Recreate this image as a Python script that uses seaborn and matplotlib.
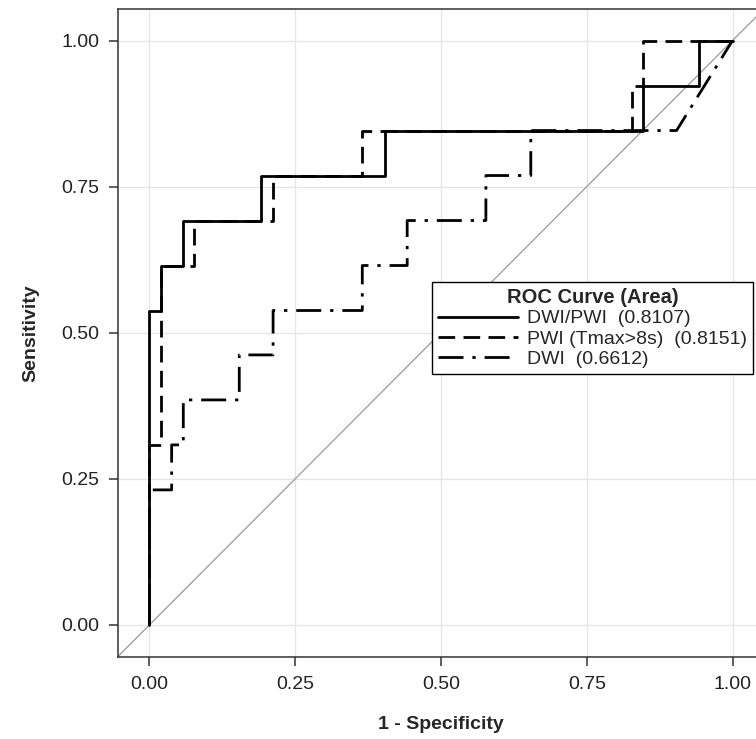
import matplotlib
matplotlib.use("Agg")
import matplotlib.pyplot as plt
import seaborn as sns
import numpy as np

# ROC noktaları (1 - özgüllük, duyarlılık)
dwi_pwi_fpr = [0, 0, 0.019, 0.019, 0.058, 0.058, 0.192, 0.192, 0.404, 0.404, 0.846, 0.846, 0.942, 0.942, 1.0]
dwi_pwi_tpr = [0, 0.538, 0.538, 0.615, 0.615, 0.692, 0.692, 0.769, 0.769, 0.846, 0.846, 0.923, 0.923, 1.0, 1.0]

pwi_fpr = [0, 0, 0.019, 0.019, 0.077, 0.077, 0.212, 0.212, 0.365, 0.365, 0.827, 0.827, 0.846, 0.846, 1.0]
pwi_tpr = [0, 0.308, 0.308, 0.615, 0.615, 0.692, 0.692, 0.769, 0.769, 0.846, 0.846, 0.923, 0.923, 1.0, 1.0]

dwi_fpr = [0, 0, 0.038, 0.038, 0.058, 0.058, 0.154, 0.154, 0.212, 0.212, 0.365, 0.365,
           0.442, 0.442, 0.577, 0.577, 0.654, 0.654, 0.904, 1.0]
dwi_tpr = [0, 0.231, 0.231, 0.308, 0.308, 0.385, 0.385, 0.462, 0.462, 0.538, 0.538, 0.615,
           0.615, 0.692, 0.692, 0.769, 0.769, 0.846, 0.846, 1.0]

etiketler = ["DWI/PWI  (0.8107)", "PWI (Tmax>8s)  (0.8151)", "DWI  (0.6612)"]
tick_degerleri = [0.0, 0.25, 0.5, 0.75, 1.0]
tick_etiketleri = ["0.00", "0.25", "0.50", "0.75", "1.00"]

sns.set_style("whitegrid", {"grid.color": "#e6e6e6", "axes.edgecolor": "#333333"})
plt.rcParams["font.family"] = ["Liberation Sans", "DejaVu Sans"]

fig = plt.figure(figsize=(7.56, 7.39), dpi=100)
ax = fig.add_axes([118 / 756, 82 / 739, 646 / 756, 648 / 739])

# köşegen referans çizgisi
ax.axline((0, 0), slope=1, color="#999999", lw=0.9, zorder=1)

sns.lineplot(x=dwi_pwi_fpr, y=dwi_pwi_tpr, sort=False, estimator=None, color="black",
             lw=2, linestyle="-", label=etiketler[0], ax=ax, zorder=3)
sns.lineplot(x=pwi_fpr, y=pwi_tpr, sort=False, estimator=None, color="black",
             lw=2, linestyle=(0, (6, 3)), label=etiketler[1], ax=ax, zorder=3)
sns.lineplot(x=dwi_fpr, y=dwi_tpr, sort=False, estimator=None, color="black",
             lw=2, linestyle=(0, (9, 3.2, 1.2, 3.2)), label=etiketler[2], ax=ax, zorder=3)

ax.set_xlim(-0.054, 1.054)
ax.set_ylim(-0.055, 1.054)
ax.set_xticks(tick_degerleri)
ax.set_xticklabels(tick_etiketleri)
ax.set_yticks(tick_degerleri)
ax.set_yticklabels(tick_etiketleri)
ax.tick_params(axis="both", which="major", length=6.5, width=1.1, color="#333333",
               labelsize=14, labelcolor="#222222", pad=7, bottom=True, left=True)
for s in ax.spines.values():
    s.set_linewidth(1.1)
ax.grid(True, lw=1.0)

ax.set_xlabel("1 - Specificity", fontsize=14, fontweight="bold", labelpad=17)
ax.set_ylabel("Sensitivity", fontsize=14, fontweight="bold", labelpad=16)

leg = ax.legend(title="ROC Curve (Area)", loc="upper left", bbox_to_anchor=(0.486, 0.578),
                borderaxespad=0, fontsize=14, title_fontproperties={"weight": "bold", "size": 14.5},
                frameon=True, fancybox=False, edgecolor="black", framealpha=1,
                handlelength=4.1, handletextpad=0.5, labelspacing=0.13, borderpad=0.3)
leg.get_frame().set_linewidth(1.0)

fig.savefig("out.png", dpi=100)
